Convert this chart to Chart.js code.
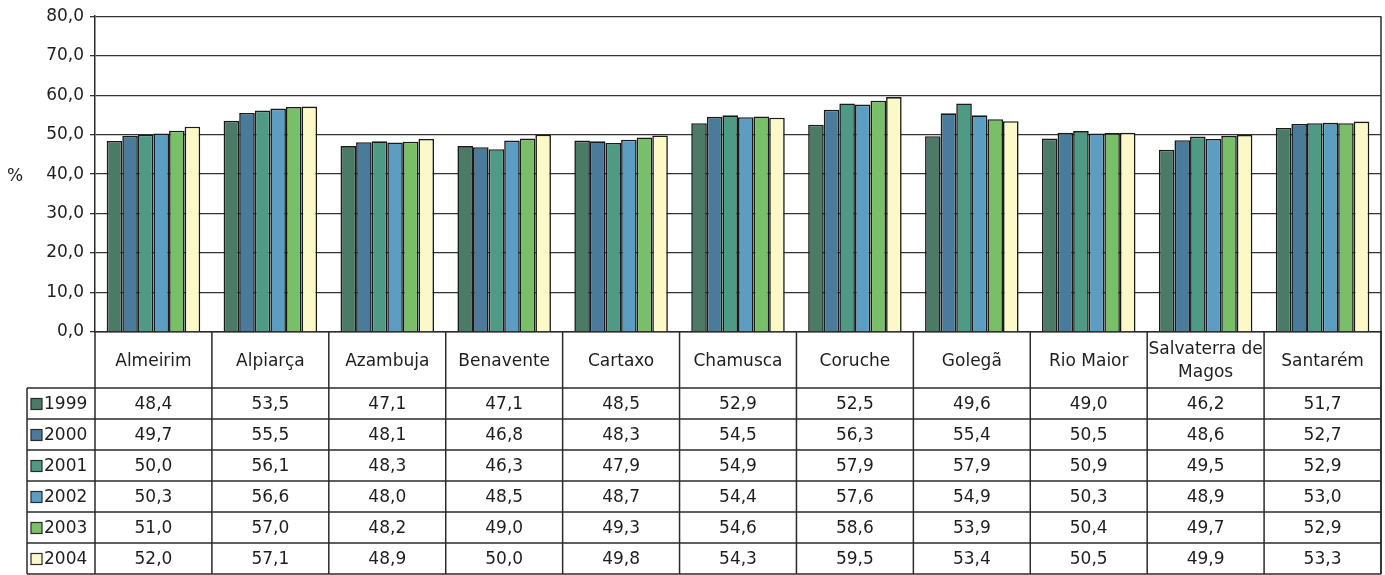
<!DOCTYPE html>
<html><head><meta charset="utf-8">
<script src="https://cdn.jsdelivr.net/npm/chart.js@4"></script>
<style>html,body{margin:0;padding:0;background:#fff;} #wrap{width:1385px;height:575px;position:relative;}</style>
</head><body><div id="wrap"><canvas id="c"></canvas></div>
<script>
const categories = ['Almeirim','Alpiarça','Azambuja','Benavente','Cartaxo','Chamusca','Coruche','Golegã','Rio Maior',['Salvaterra de','Magos'],'Santarém'];
const years = ['1999','2000','2001','2002','2003','2004'];
const v1999 = [48.4,53.5,47.1,47.1,48.5,52.9,52.5,49.6,49.0,46.2,51.7];
const v2000 = [49.7,55.5,48.1,46.8,48.3,54.5,56.3,55.4,50.5,48.6,52.7];
const v2001 = [50.0,56.1,48.3,46.3,47.9,54.9,57.9,57.9,50.9,49.5,52.9];
const v2002 = [50.3,56.6,48.0,48.5,48.7,54.4,57.6,54.9,50.3,48.9,53.0];
const v2003 = [51.0,57.0,48.2,49.0,49.3,54.6,58.6,53.9,50.4,49.7,52.9];
const v2004 = [52.0,57.1,48.9,50.0,49.8,54.3,59.5,53.4,50.5,49.9,53.3];
const yMin = 0, yMax = 80, yStep = 10;
const yTitle = '%';

const series = [v1999, v2000, v2001, v2002, v2003, v2004];
const colors = ['#4b7a67','#4a7b9a','#4f9a85','#5b9ec2','#79bf68','#fbf9c8'];
const FONT = '"DejaVu Sans", Verdana, sans-serif';
const fmt = v => v.toFixed(1).replace('.', ',');

const tablePlugin = {
  id: 'dataTable',
  afterDraw(chart) {
    const ctx = chart.ctx, a = chart.chartArea, xs = chart.scales.x;
    const L = a.left, R = a.right, top = a.top, bot = a.bottom;
    const headerBottom = 388, tableBottom = 574, legLeft = 27;
    const rowH = (tableBottom - headerBottom) / series.length;
    const n = categories.length, cw = (R - L) / n;
    const line = (x1, y1, x2, y2) => { ctx.beginPath(); ctx.moveTo(x1, y1); ctx.lineTo(x2, y2); ctx.stroke(); };
    ctx.save();
    ctx.strokeStyle = '#2a2a2a';
    ctx.lineWidth = 1.5;
    line(R, top, R, tableBottom);
    for (let i = 0; i <= n; i++) { const xx = L + i * cw; line(xx, bot, xx, tableBottom); }
    for (let r = 0; r <= series.length; r++) { const yy = headerBottom + r * rowH; line(legLeft, yy, R, yy); }
    line(legLeft, headerBottom, legLeft, tableBottom);
    ctx.font = '17px ' + FONT;
    ctx.textBaseline = 'middle';
    series.forEach((s, r) => {
      const yy = headerBottom + (r + 0.5) * rowH;
      ctx.fillStyle = '#1e1e1e';
      ctx.textAlign = 'center';
      s.forEach((v, i) => ctx.fillText(fmt(v), xs.getPixelForValue(i), yy + 1));
      ctx.fillStyle = colors[r];
      ctx.fillRect(31, yy - 5, 11, 11);
      ctx.lineWidth = 1.2;
      ctx.strokeStyle = '#2a2a2a';
      ctx.strokeRect(31, yy - 5, 11, 11);
      ctx.fillStyle = '#1e1e1e';
      ctx.textAlign = 'left';
      ctx.fillText(years[r], 44, yy + 1);
    });
    ctx.textAlign = 'center';
    ctx.font = '17px ' + FONT;
    ctx.fillText(yTitle, 15, (top + bot) / 2 + 2);
    ctx.restore();
  }
};

new Chart(document.getElementById('c'), {
  type: 'bar',
  data: {
    labels: categories,
    datasets: series.map((s, i) => ({
      label: years[i], data: s, backgroundColor: colors[i],
      borderColor: '#1a1a1a', borderWidth: 1.6,
      categoryPercentage: 0.8, barPercentage: 1.0
    }))
  },
  options: {
    responsive: true, maintainAspectRatio: false, animation: false,
    layout: { padding: { top: 16, right: 4, bottom: 187, left: 0 } },
    plugins: { legend: { display: false }, tooltip: { enabled: false } },
    scales: {
      x: {
        grid: { display: false, drawTicks: false },
        border: { display: true, color: '#2a2a2a', width: 1.5 },
        ticks: { color: '#1e1e1e', font: { family: FONT, size: 17, lineHeight: 1.35 }, padding: 18, crossAlign: 'center', maxRotation: 0, autoSkip: false },
        afterFit: s => { s.height = 56; }
      },
      y: {
        min: yMin, max: yMax,
        ticks: { stepSize: yStep, color: '#1e1e1e', font: { family: FONT, size: 17 }, padding: 6, callback: v => fmt(v) },
        grid: { color: '#333', lineWidth: 1.3, tickLength: 5, tickColor: '#333' },
        border: { display: true, color: '#2a2a2a', width: 1.5 },
        afterFit: s => { s.width = 95; }
      }
    }
  },
  plugins: [tablePlugin]
});
</script></body></html>
